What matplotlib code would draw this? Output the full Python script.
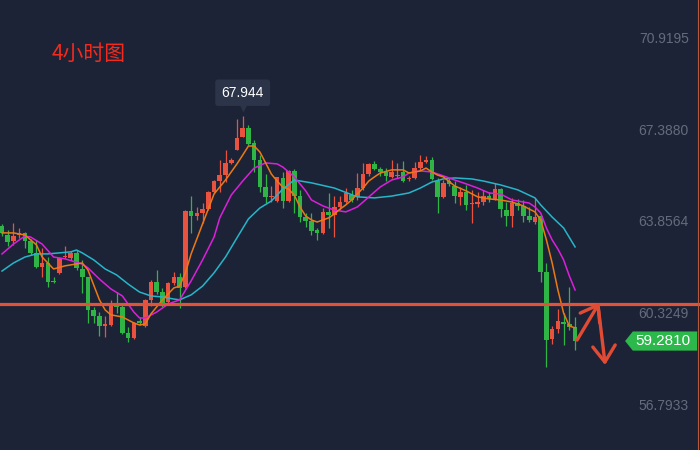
import matplotlib.pyplot as plt
from matplotlib.patches import Polygon
from matplotlib.transforms import blended_transform_factory, offset_copy

# 4-hour candles, red = up, green = down
opens = [63.72, 63.37, 63.14, 63.37, 63.45, 63.14, 62.68, 62.14, 62.29, 61.60,
         61.91, 62.52, 62.48, 62.68, 62.06, 61.75, 60.48, 60.25, 59.88, 59.90,
         60.67, 60.60, 59.59, 59.40, 60.06, 59.86, 60.87, 61.56, 61.17, 60.79,
         61.52, 61.75, 61.37, 64.30, 64.10, 64.22, 64.37, 65.03, 65.45, 65.68,
         66.15, 66.65, 67.15, 67.50, 66.92, 66.26, 65.22, 64.85, 64.68, 65.57,
         64.68, 65.84, 64.87, 64.06, 63.91, 63.56, 63.45, 64.26, 64.14, 64.45,
         64.64, 64.91, 64.84, 65.18, 65.72, 66.11, 65.91, 65.80, 65.61, 65.65,
         65.80, 65.53, 65.57, 65.95, 66.18, 66.26, 65.45, 64.84, 65.45, 65.26,
         64.84, 65.03, 64.57, 64.57, 64.64, 64.87, 64.76, 65.14, 64.33, 64.10,
         64.60, 64.49, 64.10, 63.87, 64.10, 61.94, 59.36, 59.75, 60.02, 59.94,
         59.82]
closes = [63.45, 63.10, 63.33, 63.45, 63.14, 62.68, 62.14, 62.29, 61.56, 61.54,
          62.48, 62.56, 62.68, 62.10, 61.75, 60.48, 60.25, 59.86, 59.90, 60.67,
          60.60, 59.59, 59.40, 59.98, 59.98, 60.87, 61.56, 61.17, 60.75, 61.52,
          61.75, 61.33, 64.30, 64.10, 64.22, 64.37, 65.03, 65.45, 65.68, 66.15,
          66.26, 67.11, 67.50, 66.88, 66.26, 65.22, 64.84, 64.87, 65.61, 64.68,
          65.84, 64.87, 64.06, 63.91, 63.52, 63.45, 64.26, 64.14, 64.45, 64.64,
          64.99, 64.72, 65.18, 65.72, 66.11, 65.91, 65.80, 65.65, 65.80, 65.68,
          65.45, 65.57, 65.95, 66.18, 66.26, 65.53, 64.84, 65.38, 65.34, 64.87,
          65.03, 64.53, 64.60, 64.64, 64.87, 64.76, 65.14, 64.37, 64.10, 64.60,
          64.49, 64.10, 63.95, 64.06, 61.94, 59.32, 59.75, 60.06, 59.94, 59.82,
          59.281]
highs = [63.79, 63.56, 63.83, 63.64, 63.49, 63.22, 63.18, 62.87, 62.52, 61.75,
         62.52, 62.95, 62.75, 62.79, 62.41, 61.75, 60.60, 60.40, 60.25, 60.87,
         61.17, 60.67, 59.82, 60.02, 60.21, 60.90, 61.64, 62.02, 61.33, 61.56,
         61.94, 61.91, 64.33, 64.87, 64.45, 64.60, 65.07, 65.49, 66.26, 66.65,
         66.34, 67.84, 67.944, 67.61, 67.03, 66.45, 65.72, 65.26, 65.61, 65.80,
         65.88, 65.91, 65.11, 64.22, 64.22, 63.64, 64.41, 64.99, 64.87, 64.87,
         65.18, 65.11, 65.76, 66.15, 66.15, 66.22, 65.99, 65.95, 66.26, 66.15,
         66.22, 65.65, 66.18, 66.45, 66.42, 66.38, 65.57, 65.49, 65.57, 65.45,
         65.22, 65.30, 65.11, 65.03, 65.11, 65.03, 65.38, 65.18, 64.64, 64.80,
         64.76, 64.72, 64.45, 64.80, 64.14, 62.29, 59.86, 60.52, 60.36, 61.37,
         60.21]
lows = [63.33, 62.95, 62.99, 63.26, 62.87, 62.60, 62.10, 61.75, 61.37, 61.52,
        61.87, 62.48, 62.41, 62.02, 61.13, 59.98, 59.98, 59.48, 59.44, 59.86,
        60.36, 59.57, 59.25, 59.36, 59.90, 59.82, 60.63, 61.10, 60.60, 60.67,
        61.44, 60.56, 61.33, 63.45, 63.95, 63.83, 64.33, 64.99, 65.03, 65.41,
        66.11, 66.65, 67.15, 66.84, 65.80, 65.03, 64.60, 64.64, 64.64, 64.41,
        64.64, 64.22, 63.87, 63.68, 63.37, 63.18, 63.41, 63.64, 63.29, 64.33,
        64.60, 64.64, 64.72, 65.11, 65.65, 65.88, 65.65, 65.45, 65.57, 65.57,
        65.41, 65.45, 65.53, 65.88, 66.15, 65.49, 64.22, 64.80, 65.26, 64.60,
        64.53, 64.33, 63.83, 64.45, 64.53, 64.64, 64.72, 64.06, 63.72, 63.68,
        64.33, 63.87, 63.87, 63.80, 61.56, 58.28, 59.17, 59.59, 59.13, 59.71,
        58.94]

# moving averages, read at candle positions
ma_fast_x = [0, 2, 4, 5, 6, 7, 9, 11, 14, 15, 16, 17, 18, 19, 21, 23, 24, 25, 26, 28,
             30, 31, 32, 33, 35, 37, 39, 41, 42, 43, 44, 45, 46, 47, 48, 49, 50, 51, 52, 53,
             54, 55, 56, 57, 58, 59, 60, 61, 62, 63, 64, 65, 66, 68, 70, 71, 73, 74, 75, 76,
             77, 79, 81, 83, 85, 87, 89, 91, 92, 93, 94, 95, 96, 97, 98, 99, 100]
ma_fast = [63.45, 63.45, 63.37, 63.18, 62.99, 62.52, 62.06, 62.18, 62.29, 62.02,
           61.44, 60.87, 60.48, 60.29, 60.21, 59.98, 59.90, 59.94, 60.33, 60.87,
           61.33, 61.40, 61.91, 62.64, 63.80, 64.95, 65.49, 66.11, 66.45, 66.80,
           66.80, 66.57, 66.15, 65.72, 65.45, 65.22, 65.14, 64.91, 64.45, 64.10,
           63.95, 63.87, 63.95, 64.03, 64.18, 64.37, 64.53, 64.72, 64.95, 65.18,
           65.45, 65.61, 65.76, 65.88, 65.88, 65.76, 65.84, 65.95, 65.80, 65.68,
           65.61, 65.26, 65.07, 64.84, 64.76, 64.72, 64.64, 64.49, 64.37, 64.26,
           63.95, 63.18, 62.29, 61.25, 60.36, 59.86, 59.79]
ma_mid_x = [0, 2, 4, 5, 7, 9, 11, 14, 15, 17, 19, 21, 23, 24, 25, 27, 29, 31, 33, 35,
            37, 38, 40, 42, 44, 46, 48, 49, 51, 53, 54, 56, 58, 60, 62, 63, 65, 66, 68, 70,
            71, 73, 75, 77, 79, 81, 83, 85, 87, 89, 91, 92, 93, 94, 95, 96, 97, 98, 99, 100]
ma_mid = [62.64, 63.02, 63.33, 63.29, 63.02, 62.52, 62.45, 62.25, 62.10, 61.67,
          61.29, 61.02, 60.40, 60.17, 60.17, 60.40, 60.71, 60.87, 61.60, 62.41,
          63.29, 64.03, 64.91, 65.45, 65.95, 66.15, 66.11, 65.99, 65.61, 65.07,
          64.72, 64.49, 64.33, 64.26, 64.45, 64.64, 65.03, 65.22, 65.49, 65.61,
          65.76, 65.84, 65.80, 65.65, 65.49, 65.34, 65.18, 64.99, 64.95, 64.72,
          64.64, 64.60, 64.45, 64.22, 63.64, 63.18, 62.83, 62.41, 61.79, 61.25]
ma_slow_x = [0, 2, 4, 6, 8, 10, 12, 13, 14, 16, 18, 20, 22, 24, 26, 28, 30, 31, 33, 35,
             37, 39, 41, 43, 45, 47, 49, 51, 54, 58, 62, 65, 68, 71, 73, 75, 77, 79, 82, 84,
             87, 90, 93, 94, 96, 98, 100]
ma_slow = [61.98, 62.29, 62.52, 62.64, 62.64, 62.68, 62.72, 62.79, 62.68, 62.41,
           62.06, 61.83, 61.48, 61.17, 61.02, 60.98, 60.90, 60.87, 61.06, 61.40,
           61.91, 62.52, 63.26, 63.99, 64.41, 64.68, 65.14, 65.49, 65.38, 65.18,
           64.84, 64.80, 64.87, 64.99, 65.18, 65.41, 65.53, 65.57, 65.53, 65.45,
           65.30, 65.11, 64.80, 64.53, 64.06, 63.64, 62.91]

y_ticks = [70.9195, 67.3880, 63.8564, 60.3249, 56.7933]
level = 60.71
peak_label = "67.944"
last_label = "59.2810"
title = "4小时图"

# hand-drawn arrows (candle index, price)
arrow_up = [(100.35, 59.32), (104.0, 60.67)]
arrow_up_head = [(100.9, 60.36), (104.0, 60.67), (104.3, 59.98)]
arrow_down = [(104.0, 60.67), (105.2, 58.47)]
arrow_down_head = [(103.1, 59.05), (105.2, 58.47), (107.0, 59.13)]

bg = '#1d2336'
up_c = '#ea5240'
down_c = '#2eb546'
red_line = '#e0533b'

plt.rcParams['font.family'] = ['Liberation Sans', 'DejaVu Sans']
fig = plt.figure(figsize=(7, 4.5), dpi=100, facecolor=bg)
ax = fig.add_axes([0, 0, 1, 1], facecolor=bg)
ax.set_xlim(-0.35, 121.8)
ax.set_ylim(55.08, 72.43)
ax.axis('off')

n = len(opens)
for i in range(n):
    c = up_c if closes[i] >= opens[i] else down_c
    ax.vlines(i, lows[i], highs[i], color=c, lw=0.9, zorder=2)
    lo = min(opens[i], closes[i])
    h = max(abs(closes[i] - opens[i]), 0.04)
    ax.bar(i, h, bottom=lo, width=0.8, color=c, lw=0, zorder=2)

ax.plot(ma_slow_x, ma_slow, color='#27b5c9', lw=1.1, zorder=3)
ax.plot(ma_mid_x, ma_mid, color='#dc1fdc', lw=1.1, zorder=3)
ax.plot(ma_fast_x, ma_fast, color='#ec7a12', lw=1.1, zorder=3)

ax.axhline(level, color=red_line, lw=2.3, zorder=4)
ax.axvline(121.45, color='#b8583a', lw=0.8, zorder=4)

tr = blended_transform_factory(ax.transAxes, ax.transData)
for v in y_ticks:
    ax.text(0.984, v, f"{v:.4f}", transform=tr, ha='right', va='center',
            color='#646b7c', fontsize=10)

# last price tag
last = closes[-1]
hh = 0.37
tag = Polygon([(0.893, last), (0.904, last + hh), (0.996, last + hh),
               (0.996, last - hh), (0.904, last - hh)],
              closed=True, fc='#2cb84a', ec='none', transform=tr, zorder=6)
ax.add_patch(tag)
ax.text(0.9475, last, last_label, transform=tr, ha='center', va='center',
        color='white', fontsize=11, zorder=7)

# peak label
pk = highs.index(max(highs))
ax.plot(pk, highs[pk], marker='v', ms=11, color='#2b3449', mec='none',
        transform=offset_copy(ax.transData, fig, y=9, units='points'), zorder=5)
ax.annotate(peak_label, xy=(pk, highs[pk]), xytext=(0, 17), textcoords='offset points',
            ha='center', va='center', color='white', fontsize=10, zorder=6,
            bbox=dict(boxstyle='round,pad=0.45,rounding_size=0.2', fc='#2b3449', ec='none'))

for seg in [arrow_up, arrow_up_head, arrow_down, arrow_down_head]:
    xs, ys = zip(*seg)
    ax.plot(xs, ys, color='#e24b33', lw=2.4, solid_capstyle='round',
            solid_joinstyle='round', zorder=7)

ax.text(0.074, 0.88, title, transform=ax.transAxes, ha='left', va='center',
        color='#f52a1c', fontsize=15, family=['Noto Sans CJK SC', 'DejaVu Sans'])

fig.savefig('out.png', dpi=100, facecolor=bg)
